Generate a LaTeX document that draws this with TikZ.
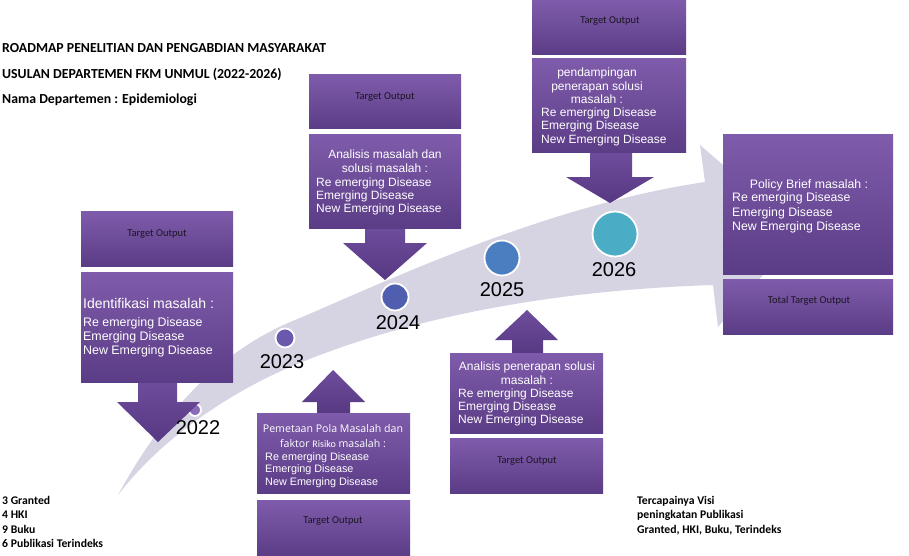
\documentclass[tikz,border=0pt]{standalone}
\usepackage{fontspec}
\setmainfont{Liberation Sans}
\newfontfamily\calfont{Carlito}
\newfontfamily\segfont{Open Sans}
\definecolor{boxtop}{HTML}{7F5CAB}
\definecolor{boxbot}{HTML}{5B3C86}
\definecolor{arrtop}{HTML}{6E4D9C}
\definecolor{arrbot}{HTML}{573882}
\definecolor{bandc}{HTML}{D6D3E3}
\definecolor{c22}{HTML}{8A6BB8}
\definecolor{c23}{HTML}{6A58AD}
\definecolor{c24}{HTML}{4F5EAF}
\definecolor{c25}{HTML}{4A7EC0}
\definecolor{c26}{HTML}{4BACC6}
\definecolor{outtext}{HTML}{1A1620}
\begin{document}
\begin{tikzpicture}[x=1pt,y=-1pt,
  pbox/.style={shade, top color=boxtop, bottom color=boxbot, draw=none, inner sep=0pt, outer sep=0pt},
  parrow/.style={top color=arrtop, bottom color=arrbot, draw=none},
  tout/.style={font=\calfont\fontsize{10.5}{12}\selectfont, text=outtext, inner sep=0pt},
  btxt/.style={font=\fontsize{12}{14}\selectfont, text=white, inner sep=0pt, anchor=base west},
  ctxt/.style={font=\fontsize{12}{14}\selectfont, text=white, inner sep=0pt, anchor=base},
  yr/.style={font=\fontsize{20}{22}\selectfont, text=black, inner sep=0pt},
  dot/.style={circle, draw=white, line width=1.8pt, inner sep=0pt},
  hd/.style={font=\calfont\bfseries\fontsize{13.8}{15}\selectfont, text=black, inner sep=0pt, anchor=base west},
  ft/.style={font=\calfont\bfseries\fontsize{11.7}{13}\selectfont, text=black, inner sep=0pt, anchor=base west}]
\useasboundingbox (0,0) rectangle (909,556);
\fill[white] (0,0) rectangle (909,556);

% big curved arrow band
\fill[bandc] (118,495) .. controls (170,400) and (230,345) .. (300,318)
  .. controls (400,275) and (550,205) .. (705,182) -- (700,145) -- (800,232)
  -- (718,327) -- (713,285) .. controls (560,290) and (420,315) .. (307,360)
  .. controls (230,390) and (160,440) .. (118,495) -- cycle;

% circles
\node[dot, fill=c22, minimum size=12pt] (c22) at (195,410) {};
\node[dot, fill=c23, minimum size=19pt] (c23) at (285,338) {};
\node[dot, fill=c24, minimum size=27pt] (c24) at (395,297) {};
\node[dot, fill=c25, minimum size=35pt] (c25) at (502,258) {};
\node[dot, fill=c26, minimum size=45pt] (c26) at (615,234) {};

% block arrows
\shade[parrow] (138,381) -- (177,381) -- (177,402) -- (200,402) -- (158,442) -- (117,402) -- (138,402) -- cycle;
\shade[parrow] (317,414) -- (317,402) -- (302,402) -- (333,370) -- (365,402) -- (350,402) -- (350,414) -- cycle;
\shade[parrow] (365,227) -- (405,227) -- (405,243) -- (427,243) -- (385,280) -- (343,243) -- (365,243) -- cycle;
\shade[parrow] (512,354) -- (512,340) -- (495,340) -- (527,310) -- (558,340) -- (543,340) -- (543,354) -- cycle;
\shade[parrow] (590,152) -- (632,152) -- (632,177) -- (654,177) -- (610,203) -- (566,177) -- (590,177) -- cycle;

% boxes
\node[pbox, minimum width=152pt, minimum height=55pt]  (t22) at (157,238.5) {};
\node[pbox, minimum width=152pt, minimum height=110pt] (b22) at (157,327) {};
\node[pbox, minimum width=153pt, minimum height=80pt]  (b23) at (333.5,453) {};
\node[pbox, minimum width=153pt, minimum height=56pt]  (t23) at (333.5,528) {};
\node[pbox, minimum width=152pt, minimum height=54pt]  (t24) at (385,102) {};
\node[pbox, minimum width=152pt, minimum height=93pt]  (b24) at (385,181.5) {};
\node[pbox, minimum width=153pt, minimum height=80pt]  (b25) at (526.5,393) {};
\node[pbox, minimum width=153pt, minimum height=55pt]  (t25) at (526.5,465.5) {};
\node[pbox, minimum width=154pt, minimum height=55pt]  (t26) at (609,27.5) {};
\node[pbox, minimum width=154pt, minimum height=94pt]  (b26) at (609,106) {};
\node[pbox, minimum width=170pt, minimum height=139pt] (pb)  at (808,204.5) {};
\node[pbox, minimum width=170pt, minimum height=55pt]  (tt)  at (808,306.5) {};

% target output labels
\node[tout] (l22) at (157,234) {Target Output};
\node[tout] (l24) at (385,97) {Target Output};
\node[tout] (l26) at (610,21) {Target Output};
\node[tout] (l23) at (333,521) {Target Output};
\node[tout] (l25) at (527,461) {Target Output};
\node[tout] (ltt) at (809,301) {Total Target Output};

% 2022 box text
\node[btxt, font=\fontsize{14}{16}\selectfont] (x22a) at (83,308.5) {Identifikasi masalah :};
\node[btxt, font=\fontsize{12.4}{14}\selectfont] (x22b) at (83,326.5) {Re emerging Disease};
\node[btxt, font=\fontsize{12.4}{14}\selectfont] (x22c) at (83,340.5) {Emerging Disease};
\node[btxt, font=\fontsize{12.4}{14}\selectfont] (x22d) at (83,354.5) {New Emerging Disease};

% 2023 box text
\node[ctxt, font=\segfont\fontsize{10.6}{12}\selectfont] (x23a) at (333,432) {Pemetaan Pola Masalah dan};
\node[ctxt, font=\segfont\fontsize{10.6}{12}\selectfont] (x23b) at (333,447) {faktor {\calfont\fontsize{10}{12}\selectfont Risiko} masalah :};
\node[btxt, font=\fontsize{10.8}{12}\selectfont] (x23c) at (265,460) {Re emerging Disease};
\node[btxt, font=\fontsize{10.8}{12}\selectfont] (x23d) at (265,472.5) {Emerging Disease};
\node[btxt, font=\fontsize{10.8}{12}\selectfont] (x23e) at (265,485) {New Emerging Disease};

% 2024 box text
\node[ctxt] (x24a) at (385,159) {Analisis masalah dan};
\node[ctxt] (x24b) at (385,172) {solusi masalah :};
\node[btxt] (x24c) at (316,186) {Re emerging Disease};
\node[btxt] (x24d) at (316,199) {Emerging Disease};
\node[btxt] (x24e) at (316,212) {New Emerging Disease};

% 2025 box text
\node[ctxt] (x25a) at (527,370) {Analisis penerapan solusi};
\node[ctxt] (x25b) at (527,384) {masalah :};
\node[btxt] (x25c) at (458,397) {Re emerging Disease};
\node[btxt] (x25d) at (458,410) {Emerging Disease};
\node[btxt] (x25e) at (458,423) {New Emerging Disease};

% 2026 box text
\node[ctxt] (x26a) at (597,77) {pendampingan};
\node[ctxt] (x26b) at (597,91) {penerapan solusi};
\node[ctxt] (x26c) at (597,104) {masalah :};
\node[btxt] (x26d) at (541,117) {Re emerging Disease};
\node[btxt] (x26e) at (541,130) {Emerging Disease};
\node[btxt] (x26f) at (541,144) {New Emerging Disease};

% policy brief text
\node[ctxt, font=\fontsize{12.3}{14}\selectfont] (xpa) at (809,189) {Policy Brief masalah :};
\node[btxt, font=\fontsize{12.3}{14}\selectfont] (xpb) at (732,201.5) {Re emerging Disease};
\node[btxt, font=\fontsize{12.3}{14}\selectfont] (xpc) at (732,216) {Emerging Disease};
\node[btxt, font=\fontsize{12.3}{14}\selectfont] (xpd) at (732,230.5) {New Emerging Disease};

% year labels
\node[yr] (y22) at (198,428) {2022};
\node[yr] (y23) at (282,362) {2023};
\node[yr] (y24) at (398,323) {2024};
\node[yr] (y25) at (502,290) {2025};
\node[yr] (y26) at (614,270) {2026};

% header
\node[hd] (h1) at (2,52.5) {ROADMAP PENELITIAN DAN PENGABDIAN MASYARAKAT};
\node[hd] (h2) at (2,79) {USULAN DEPARTEMEN FKM UNMUL (2022-2026)};
\node[hd] (h3) at (2,103.5) {Nama Departemen : Epidemiologi};

% footers
\node[ft] (f1) at (2,504) {3 Granted};
\node[ft] (f2) at (2,518.5) {4 HKI};
\node[ft] (f3) at (2,533) {9 Buku};
\node[ft] (f4) at (2,547.5) {6 Publikasi Terindeks};
\node[ft] (g1) at (637,504) {Tercapainya Visi};
\node[ft] (g2) at (637,518.5) {peningkatan Publikasi};
\node[ft] (g3) at (637,533) {Granted, HKI, Buku, Terindeks};
\end{tikzpicture}
\end{document}
